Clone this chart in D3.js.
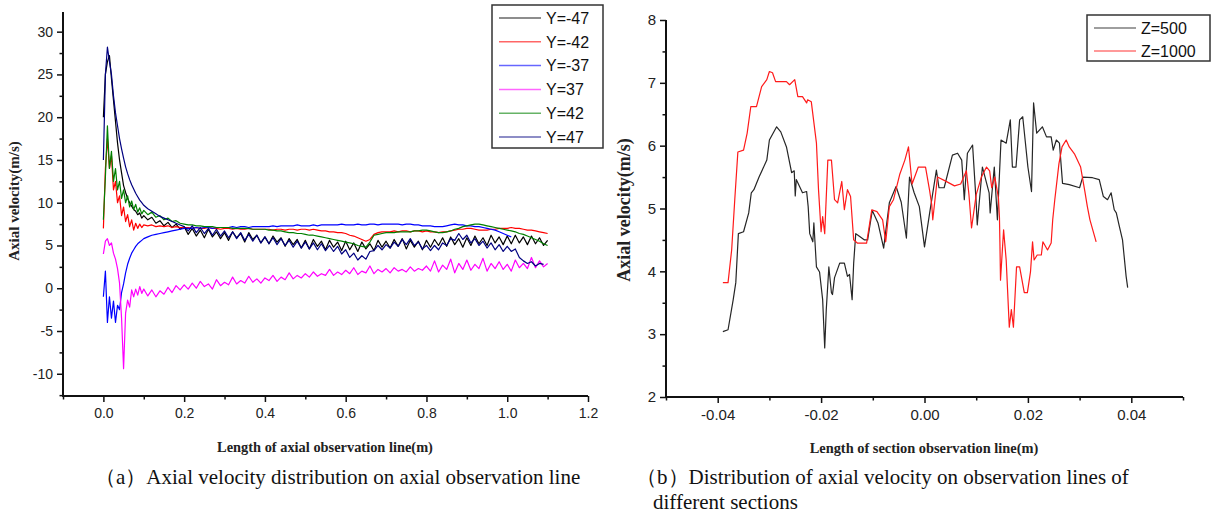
<!DOCTYPE html>
<html>
<head>
<meta charset="utf-8">
<script src="https://cdn.jsdelivr.net/npm/d3@7"></script>
<style>
  html, body { margin: 0; padding: 0; background: #fff; }
  svg { display: block; }
  .tick text { font-family: "Liberation Sans", Arial, sans-serif; fill: #222; }
  .axis-title { font-family: "Liberation Serif", "Times New Roman", serif; font-weight: bold; fill: #222; }
  .caption { font-family: "Liberation Serif", "Times New Roman", serif; font-size: 21px; fill: #111; }
  .legend text { font-family: "Liberation Sans", Arial, sans-serif; font-size: 16px; fill: #111; }
</style>
</head>
<body>
<svg id="chart" width="1217" height="519"></svg>
<script>
// ---- (a) axial observation line ----
const axialX = [0, 0.005, 0.01, 0.015, 0.02, 0.025, 0.03, 0.035, 0.04, 0.045, 0.05, 0.055, 0.06, 0.065, 0.07, 0.075, 0.08, 0.085, 0.09, 0.095, 0.1,
  0.11, 0.12, 0.13, 0.14, 0.15, 0.16, 0.17, 0.18, 0.19, 0.2,
  0.21, 0.22, 0.23, 0.24, 0.25, 0.26, 0.27, 0.28, 0.29, 0.3,
  0.31, 0.32, 0.33, 0.34, 0.35, 0.36, 0.37, 0.38, 0.39, 0.4,
  0.41, 0.42, 0.43, 0.44, 0.45, 0.46, 0.47, 0.48, 0.49, 0.5,
  0.51, 0.52, 0.53, 0.54, 0.55, 0.56, 0.57, 0.58, 0.59, 0.6,
  0.61, 0.62, 0.63, 0.64, 0.65, 0.66, 0.67, 0.68, 0.69, 0.7,
  0.71, 0.72, 0.73, 0.74, 0.75, 0.76, 0.77, 0.78, 0.79, 0.8,
  0.81, 0.82, 0.83, 0.84, 0.85, 0.86, 0.87, 0.88, 0.89, 0.9,
  0.91, 0.92, 0.93, 0.94, 0.95, 0.96, 0.97, 0.98, 0.99, 1.0,
  1.01, 1.02, 1.03, 1.04, 1.05, 1.06, 1.07, 1.08, 1.09, 1.1];

const velYm47 = [20, 25, 26.5, 27.2, 24.5, 22, 19.5, 17, 15, 13.5, 12, 11.2, 10.5, 10, 9.6, 9.2, 9, 8.6, 8.8, 8.2, 8.5,
  8.0, 8.3, 7.6, 7.9, 7.3, 7.7, 7.1, 7.5, 6.9, 7.2,
  6.3, 7.0, 6.1, 6.8, 5.9, 6.9, 6.0, 6.6, 5.8, 6.5,
  5.6, 6.6, 5.9, 6.4, 5.4, 6.5, 5.7, 6.2, 5.3, 6.0,
  5.2, 6.1, 5.4, 5.9, 4.9, 5.8, 5.1, 5.7, 4.7, 5.6,
  4.6, 5.7, 4.9, 5.5, 4.5, 5.6, 4.8, 5.4, 4.4, 5.5,
  4.5, 5.3, 4.3, 5.4, 4.6, 5.2, 4.4, 5.6, 4.8, 5.5,
  4.7, 5.7, 4.9, 5.8, 4.6, 5.6, 4.8, 5.5, 4.5, 5.6,
  4.8, 5.7, 5.0, 5.9, 4.9, 6.0, 5.1, 5.8, 4.8, 5.9,
  5.0, 6.1, 5.2, 5.9, 5.0, 6.2, 5.3, 6.0, 5.1, 6.1,
  5.2, 6.2, 5.3, 6.0, 5.1, 6.1, 5.2, 5.9, 5.0, 5.6];

const velYm42 = [7, 14, 17.5, 14, 15.5, 11.5, 12.5, 10, 10.8, 8.5, 9.5, 7.8, 8.6, 7.2, 8.0, 6.8, 7.6, 7.0, 7.5, 7.1, 7.4,
  7.3, 7.4, 7.2, 7.3, 7.2, 7.3, 7.1, 7.2, 7.1, 7.1,
  7.1, 7.0, 7.1, 7.0, 7.0, 7.1, 7.0, 7.0, 6.9, 7.0,
  7.0, 6.9, 7.0, 6.9, 6.9, 7.0, 6.9, 6.9, 6.9, 6.9,
  6.9, 6.8, 6.9, 6.9, 6.8, 6.9, 6.9, 6.8, 6.9, 6.9,
  6.8, 6.9, 6.8, 6.7, 6.7, 6.6, 6.6, 6.5, 6.5, 6.4,
  6.2, 6.1, 5.9, 5.7, 5.5, 5.7, 6.3, 6.5, 6.6, 6.6,
  6.6, 6.7, 6.6, 6.7, 6.7, 6.6, 6.7, 6.7, 6.6, 6.7,
  6.6, 6.6, 6.5, 6.6, 6.6, 6.7, 6.8, 6.9, 6.9, 7.0,
  7.0, 6.9, 6.8, 6.8, 6.8, 6.9, 6.9, 7.0, 7.0, 7.0,
  7.1, 7.0, 7.0, 6.9, 6.8, 6.8, 6.7, 6.6, 6.5, 6.4];

const velYm37 = [-1, 2, -4, -1, -3.5, -1.5, -4, -2, -2.5, -0.5, 0.5, 1.8, 2.8, 3.5, 4.1, 4.5, 4.9, 5.2, 5.4, 5.6, 5.8,
  6.0, 6.2, 6.3, 6.4, 6.5, 6.6, 6.7, 6.8, 6.9, 7.0,
  7.0, 7.0, 7.1, 7.0, 7.1, 7.1, 7.0, 7.1, 7.1, 7.1,
  7.1, 7.2, 7.1, 7.2, 7.2, 7.1, 7.2, 7.2, 7.2, 7.2,
  7.2, 7.3, 7.2, 7.3, 7.3, 7.3, 7.3, 7.4, 7.3, 7.3,
  7.3, 7.4, 7.3, 7.4, 7.4, 7.4, 7.4, 7.4, 7.5, 7.4,
  7.4, 7.4, 7.5, 7.4, 7.4, 7.5, 7.5, 7.4, 7.5, 7.5,
  7.5, 7.5, 7.5, 7.4, 7.5, 7.5, 7.4, 7.4, 7.3, 7.3,
  7.3, 7.2, 7.2, 7.2, 7.3, 7.4, 7.5, 7.4, 7.4, 7.3,
  7.3, 7.2, 7.2, 7.1, 7.0, 6.9, 6.8, 6.6, 6.4, 6.2,
  6.0, null, null, null, null, null, null, null, null, null];

const velY37 = [4, 5.5, 5.8, 5.0, 5.3, 4.1, 3.4, 2.3, 0.6, -3.5, -9.4, -2.9, -1.4, -2.2, -0.2, -1.0, -0.1, -0.8, 0.2, -0.6, -0.1,
  -0.9, -0.2, -1.0, -0.3, -0.7, 0.1, -0.5, 0.3, -0.2, 0.4,
  -0.1, 0.6, 0.0, 0.8, 0.2, 0.5, -0.1, 1.0, 0.3, 0.7,
  0.4, 1.3, 0.5, 0.9, 0.6, 1.4, 0.7, 1.1, 0.6, 1.2,
  0.9, 1.5, 0.8, 1.3, 1.0, 1.8, 1.1, 1.5, 1.2, 1.7,
  1.3, 1.9, 1.4, 1.7, 1.5, 2.2, 1.5, 1.9, 1.6, 2.1,
  1.7, 2.4, 1.6, 2.0, 1.8, 2.6, 1.7, 2.2, 1.9, 2.3,
  1.8, 2.4, 2.0, 2.2, 1.9, 2.5, 2.0, 2.3, 2.1, 2.6,
  2.0, 3.2, 1.9, 2.7, 2.2, 3.4, 1.8, 2.9, 2.2, 3.3,
  2.1, 2.8, 2.3, 3.5, 2.0, 2.9, 2.3, 3.1, 2.2, 2.8,
  2.0, 3.3, 2.4, 2.9, 2.3, 3.6, 2.4, 3.2, 2.5, 2.9];

const velY42 = [8, 13, 19, 14, 16, 12.5, 14, 11.5, 12.5, 10.5, 11.5, 10, 10.8, 9.5, 10.2, 9.2, 9.8, 8.9, 9.4, 8.7, 9.1,
  8.6, 8.9, 8.3, 8.5, 8.0, 8.2, 7.8, 7.9, 7.6, 7.5,
  7.4, 7.4, 7.3, 7.3, 7.2, 7.2, 7.2, 7.1, 7.1, 7.1,
  7.1, 7.0, 7.0, 7.0, 7.0, 7.0, 6.9, 6.9, 6.9, 6.9,
  6.8, 6.8, 6.7, 6.7, 6.6, 6.5, 6.5, 6.4, 6.4, 6.3,
  6.2, 6.2, 6.1, 6.0, 5.9, 5.8, 5.7, 5.6, 5.5, 5.4,
  5.3, 5.2, 5.0, 4.9, 4.8, 5.4, 6.2, 6.3, 6.4, 6.5,
  6.5, 6.5, 6.6, 6.6, 6.6, 6.6, 6.7, 6.7, 6.8, 6.8,
  6.7, 6.6, 6.5, 6.5, 6.6, 6.7, 6.9, 7.0, 7.2, 7.3,
  7.4, 7.5, 7.5, 7.4, 7.3, 7.2, 7.1, 7.0, 6.9, 6.8,
  6.7, 6.6, 6.4, 6.3, 6.1, 5.9, 5.7, 5.5, 5.2, 5.0];

const velY47 = [15, 25, 28.2, 26.5, 25, 22.5, 20.5, 19, 17.5, 16.3, 15.2, 14.2, 13.4, 12.7, 12.1, 11.6, 11.1, 10.7, 10.3, 10.0, 9.7,
  9.3, 9.0, 8.7, 8.4, 8.2, 8.0, 7.8, 7.6, 7.4, 7.2,
  6.7, 7.3, 6.5, 7.1, 6.4, 7.0, 6.2, 6.9, 6.1, 6.7,
  5.9, 6.6, 5.8, 6.5, 5.6, 6.3, 5.5, 6.2, 5.3, 6.0,
  5.2, 5.9, 5.1, 5.8, 5.0, 5.6, 4.8, 5.5, 4.7, 5.4,
  4.6, 5.3, 4.5, 5.2, 4.4, 5.0, 4.3, 4.9, 4.0, 4.5,
  3.6, 4.1, 3.3, 3.8, 3.4, 4.3, 4.4, 5.0, 4.5, 5.1,
  4.7, 5.4, 4.9, 5.7, 5.1, 5.8, 5.0, 5.4, 4.6, 5.0,
  4.4, 5.0, 4.5, 5.3, 5.0, 5.8, 5.6, 6.4, 5.7, 6.2,
  5.3, 5.8, 5.0, 5.5, 4.7, 5.3, 4.5, 5.1, 4.3, 4.9,
  4.3, 4.6, 3.6, 3.2, 2.9, 3.1, 2.6, 2.9, 2.8, null];

const axialNames = ["Y=-47", "Y=-42", "Y=-37", "Y=37", "Y=42", "Y=47"];
const axialSeries = [velYm47, velYm42, velYm37, velY37, velY42, velY47];
const axialColors = ["#000000", "#ff0000", "#0000ff", "#ff00ff", "#008000", "#000080"];

const axialXTicks = [0, 0.2, 0.4, 0.6, 0.8, 1.0, 1.2];
const axialXMinor = [-0.1, 0.1, 0.3, 0.5, 0.7, 0.9, 1.1];
const axialYTicks = [-10, -5, 0, 5, 10, 15, 20, 25, 30];
const axialYMinor = [-12.5, -7.5, -2.5, 2.5, 7.5, 12.5, 17.5, 22.5, 27.5];

// ---- (b) section observation lines ----
const sectX500 = [-0.039, -0.038, -0.037, -0.0365, -0.036, -0.035, -0.034, -0.0335, -0.033, -0.032, -0.0305, -0.03, -0.0286, -0.0278,
  -0.0267, -0.0257, -0.0252, -0.025, -0.0248, -0.0236, -0.0228, -0.0225, -0.0222, -0.0216, -0.0214, -0.0209, -0.0203, -0.0197,
  -0.0193, -0.019, -0.0185, -0.018, -0.0178, -0.0174, -0.0164, -0.0155, -0.0149, -0.0145, -0.014, -0.0137, -0.0133, -0.0128,
  -0.0116, -0.011, -0.0101, -0.009, -0.0079, -0.0073, -0.0068, -0.0055, -0.0045, -0.0035, -0.0029, -0.002, -0.001, 0,
  0.001, 0.0023, 0.0028, 0.0038, 0.0054, 0.0064, 0.0072, 0.0077, 0.0083, 0.0093, 0.01, 0.0102, 0.0112, 0.0125, 0.0127,
  0.0135, 0.0141, 0.0148, 0.0158, 0.0166, 0.017, 0.0177, 0.0184, 0.019, 0.02, 0.0207, 0.0211, 0.0217, 0.0228, 0.0236,
  0.0245, 0.0249, 0.0255, 0.0261, 0.0267, 0.028, 0.03, 0.0306, 0.0325, 0.0338, 0.0346, 0.0354, 0.0361, 0.0367, 0.0371,
  0.0377, 0.0383, 0.039, 0.0393];
const velZ500 = [3.04, 3.07, 3.55, 3.82, 4.6, 4.63, 4.93, 5.25, 5.3, 5.5, 5.77, 6.09, 6.3, 6.22,
  5.98, 5.57, 5.6, 5.2, 5.46, 5.25, 5.27, 5.03, 4.6, 4.47, 4.77, 4.07, 3.99, 3.55,
  2.78, 3.39, 4.07, 3.66, 3.63, 3.9, 4.13, 4.13, 3.92, 3.95, 3.55, 4.13, 4.6, 4.57,
  4.5, 4.5, 4.97, 4.77, 4.37, 4.77, 5.09, 5.35, 5.1, 4.53, 5.5, 5.25, 5.03, 4.39,
  4.93, 5.61, 5.33, 5.33, 5.85, 5.88, 5.77, 5.14, 5.88, 6.01, 5.09, 4.74, 5.66, 5.25, 4.93,
  5.66, 4.82, 6.09, 6.04, 6.41, 5.66, 5.66, 6.41, 6.46, 5.66, 5.27, 6.68, 6.2, 6.3, 6.14,
  6.14, 5.93, 6.09, 6.04, 5.4, 5.38, 5.33, 5.5, 5.49, 5.46, 5.19, 5.14, 5.25, 4.98, 4.93,
  4.71, 4.5, 3.92, 3.74];

const sectX1000 = [-0.039, -0.038, -0.0373, -0.0367, -0.0361, -0.035, -0.0343, -0.0336, -0.0325, -0.0315, -0.0305, -0.03, -0.0294,
  -0.0288, -0.0267, -0.0261, -0.0251, -0.0245, -0.0236, -0.0228, -0.0226, -0.0219, -0.0209, -0.0205, -0.02, -0.0197, -0.0193,
  -0.0187, -0.018, -0.0174, -0.0168, -0.016, -0.0155, -0.0149, -0.0143, -0.0137, -0.013, -0.0112, -0.0102, -0.0092, -0.0081,
  -0.0075, -0.0068, -0.006, -0.0048, -0.0038, -0.0031, -0.0024, -0.0012, 0.0002, 0.001, 0.0014, 0.0016, 0.0025, 0.004,
  0.0058, 0.007, 0.0081, 0.0086, 0.0091, 0.01, 0.011, 0.012, 0.0126, 0.013, 0.0136, 0.0143, 0.0145, 0.0146, 0.0147,
  0.0153, 0.0158, 0.0164, 0.0168, 0.0172, 0.0178, 0.0184, 0.0193, 0.0199, 0.0205, 0.0209, 0.0212, 0.0218, 0.0226,
  0.0229, 0.0238, 0.0245, 0.0248, 0.0252, 0.026, 0.0266, 0.0274, 0.028, 0.029, 0.0302, 0.031, 0.0315, 0.032, 0.0332];
const velZ1000 = [3.82, 3.82, 4.34, 5.14, 5.9, 5.93, 6.2, 6.62, 6.62, 6.94, 7.05, 7.18, 7.16,
  7.02, 7.02, 6.97, 7.05, 6.78, 6.78, 6.68, 6.73, 6.7, 6.04, 5.3, 4.63, 4.87, 4.6,
  5.77, 5.77, 5.14, 5.09, 5.43, 4.98, 5.3, 5.19, 4.5, 4.45, 4.45, 4.98, 4.95, 4.82,
  4.47, 5.03, 5.14, 5.54, 5.77, 5.98, 5.39, 5.66, 5.66, 5.28, 5.06, 4.82, 5.5, 5.44,
  5.36, 5.39, 5.6, 5.22, 4.69, 5.22, 5.5, 5.66, 5.6, 5.33, 5.5, 5.17, 4.85, 4.39, 3.86,
  4.66, 4.18, 3.11, 3.39, 3.11, 4.07, 4.07, 3.66, 3.66, 3.99, 4.47, 4.18, 4.26, 4.26,
  4.47, 4.34, 4.45, 4.82, 5.14, 5.71, 5.98, 6.09, 5.98, 5.87, 5.66, 5.28, 5.03, 4.82, 4.47];

const sectNames = ["Z=500", "Z=1000"];
const sectXs = [sectX500, sectX1000];
const sectSeries = [velZ500, velZ1000];
const sectColors = ["#262626", "#ff1a1a"];

const sectXTicks = [-0.04, -0.02, 0, 0.02, 0.04];
const sectXMinor = [-0.05, -0.03, -0.01, 0.01, 0.03, 0.05];
const sectYTicks = [2, 3, 4, 5, 6, 7, 8];
const sectYMinor = [2.5, 3.5, 4.5, 5.5, 6.5, 7.5];

const svg = d3.select("#chart");

// draw a pair of left/bottom axes with outward major + minor ticks
function drawAxes(g, x, y, o) {
  const [x0, x1] = x.range(), [y0, y1] = y.range();
  g.append("g").attr("transform", `translate(0,${y0})`)
    .call(d3.axisBottom(x).tickValues(o.xMinor).tickSize(3.5).tickFormat(""))
    .call(s => s.select(".domain").remove())
    .selectAll("line").attr("stroke", "#111").attr("stroke-width", 1.5);
  g.append("g").attr("transform", `translate(${x0},0)`)
    .call(d3.axisLeft(y).tickValues(o.yMinor).tickSize(3.5).tickFormat(""))
    .call(s => s.select(".domain").remove())
    .selectAll("line").attr("stroke", "#111").attr("stroke-width", 1.5);

  const gx = g.append("g").attr("transform", `translate(0,${y0})`)
    .call(d3.axisBottom(x).tickValues(o.xTicks).tickSize(6).tickPadding(6).tickFormat(o.xFmt))
    .call(s => s.select(".domain").remove());
  gx.selectAll("line").attr("stroke", "#111").attr("stroke-width", 1.5);
  gx.selectAll("text").style("font-size", o.fs + "px");

  const gy = g.append("g").attr("transform", `translate(${x0},0)`)
    .call(d3.axisLeft(y).tickValues(o.yTicks).tickSize(6).tickPadding(4).tickFormat(o.yFmt))
    .call(s => s.select(".domain").remove());
  gy.selectAll("line").attr("stroke", "#111").attr("stroke-width", 1.5);
  gy.selectAll("text").style("font-size", o.fs + "px");

  g.append("path").attr("fill", "none").attr("stroke", "#111").attr("stroke-width", 2)
    .attr("d", `M${x0},${y1}V${y0}H${x1}`);
}

function drawLegend(g, names, colors, x, y, w, h, step) {
  const lg = g.append("g").attr("class", "legend");
  lg.append("rect").attr("x", x).attr("y", y).attr("width", w).attr("height", h)
    .attr("fill", "#fff").attr("stroke", "#333").attr("stroke-width", 1.5);
  names.forEach((n, i) => {
    const cy = y + 13 + i * step;
    lg.append("line").attr("x1", x + 7).attr("x2", x + 49).attr("y1", cy).attr("y2", cy)
      .attr("stroke", colors[i]).attr("stroke-opacity", 0.6).attr("stroke-width", 1.5);
    lg.append("text").attr("x", x + 54).attr("y", cy).attr("dy", "0.36em").text(n);
  });
}

// ---- panel (a) ----
const xA = d3.scaleLinear().domain([-0.1, 1.2]).range([63, 588]);
const yA = d3.scaleLinear().domain([-12.6, 32.3]).range([396, 12]);
const gA = svg.append("g");

const lineA = d3.line().defined(d => d[1] != null).x(d => xA(d[0])).y(d => yA(d[1]));
axialSeries.forEach((vals, i) => {
  gA.append("path").datum(axialX.map((xv, j) => [xv, vals[j]]))
    .attr("fill", "none").attr("stroke", axialColors[i]).attr("stroke-width", 1.2)
    .attr("stroke-linejoin", "round").attr("d", lineA);
});

drawAxes(gA, xA, yA, {
  xTicks: axialXTicks, xMinor: axialXMinor, yTicks: axialYTicks, yMinor: axialYMinor,
  xFmt: d => d.toFixed(1), yFmt: d => String(d), fs: 14
});
drawLegend(gA, axialNames, axialColors, 492, 5, 111, 143, 23.8);

gA.append("text").attr("class", "axis-title").attr("font-size", 14.4)
  .attr("text-anchor", "middle").attr("x", 325).attr("y", 452)
  .text("Length of axial observation line(m)");
gA.append("text").attr("class", "axis-title").attr("font-size", 15)
  .attr("text-anchor", "middle").attr("transform", "translate(19,201) rotate(-90)")
  .text("Axial velocity(m/s)");

// ---- panel (b) ----
const xB = d3.scaleLinear().domain([-0.05, 0.05]).range([666, 1183]);
const yB = d3.scaleLinear().domain([2, 8]).range([397, 20]);
const gB = svg.append("g");

const lineB = d3.line().x(d => xB(d[0])).y(d => yB(d[1]));
sectSeries.forEach((vals, i) => {
  gB.append("path").datum(sectXs[i].map((xv, j) => [xv, vals[j]]))
    .attr("fill", "none").attr("stroke", sectColors[i]).attr("stroke-width", 1.2)
    .attr("stroke-linejoin", "round").attr("d", lineB);
});

drawAxes(gB, xB, yB, {
  xTicks: sectXTicks, xMinor: sectXMinor, yTicks: sectYTicks, yMinor: sectYMinor,
  xFmt: d => d.toFixed(2), yFmt: d => String(d), fs: 15
});
drawLegend(gB, sectNames, sectColors, 1087, 15, 123, 46, 23);

gB.append("text").attr("class", "axis-title").attr("font-size", 14.4)
  .attr("text-anchor", "middle").attr("x", 924).attr("y", 453)
  .text("Length of section observation line(m)");
gB.append("text").attr("class", "axis-title").attr("font-size", 18)
  .attr("text-anchor", "middle").attr("transform", "translate(630,210) rotate(-90)")
  .text("Axial velocity(m/s)");

// ---- captions ----
svg.append("text").attr("class", "caption").attr("x", 95).attr("y", 484)
  .text("（a）Axial velocity distribution on axial observation line");
svg.append("text").attr("class", "caption").attr("x", 636).attr("y", 484)
  .text("（b）Distribution of axial velocity on observation lines of");
svg.append("text").attr("class", "caption").attr("x", 653).attr("y", 509)
  .text("different sections");
</script>
</body>
</html>
